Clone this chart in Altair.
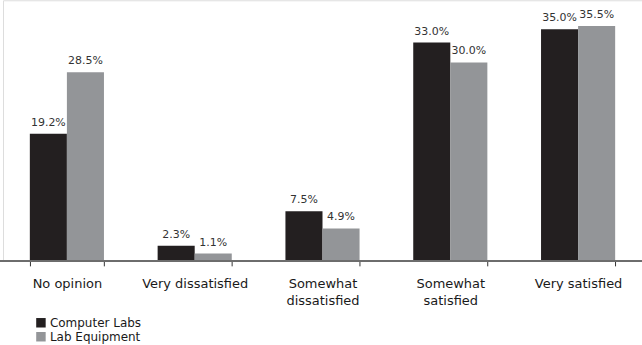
import altair as alt
import pandas as pd

categories = ["No opinion", "Very dissatisfied", "Somewhat dissatisfied", "Somewhat satisfied", "Very satisfied"]
series = ["Computer Labs", "Lab Equipment"]
computer_labs = [19.2, 2.3, 7.5, 33.0, 35.0]
lab_equipment = [28.5, 1.1, 4.9, 30.0, 35.5]
colors = ["#231f20", "#939598"]

rows = []
for c, a, b in zip(categories, computer_labs, lab_equipment):
    rows.append({"category": c, "series": series[0], "value": a, "label": f"{a:.1f}%"})
    rows.append({"category": c, "series": series[1], "value": b, "label": f"{b:.1f}%"})
df = pd.DataFrame(rows)

FONT = "DejaVu Sans"

x = alt.X(
    "category:N",
    sort=categories,
    scale=alt.Scale(paddingInner=0.42, paddingOuter=0.21),
    axis=alt.Axis(
        title=None,
        labelAngle=0,
        labelFont=FONT,
        labelFontSize=13,
        labelColor="#1a1a1a",
        labelPadding=12,
        labelLineHeight=17,
        labelBaseline="top",
        labelExpr="indexof(datum.label, 'Somewhat') == 0 ? split(datum.label, ' ') : datum.label",
        tickBand="extent",
        tickSize=5,
        tickColor="#333333",
        tickWidth=1,
        domainColor="#6d6d6d",
        domainWidth=1.5,
        grid=False,
    ),
)
y = alt.Y(
    "value:Q",
    scale=alt.Scale(domain=[0, 39.4], nice=False),
    axis=None,
)
xoff = alt.XOffset("series:N", sort=series)

bars = alt.Chart(df).mark_bar().encode(
    x=x,
    y=y,
    xOffset=xoff,
    color=alt.Color(
        "series:N",
        sort=series,
        scale=alt.Scale(domain=series, range=colors),
        legend=alt.Legend(
            title=None,
            orient="none",
            legendX=32,
            legendY=317,
            symbolType="square",
            symbolSize=90,
            symbolStrokeWidth=0,
            labelFont=FONT,
            labelFontSize=12,
            labelColor="#1a1a1a",
            labelOffset=3,
            rowPadding=2,
            padding=0,
        ),
    ),
)

labels = alt.Chart(df).mark_text(
    baseline="bottom", dy=-6, font=FONT, fontSize=11, color="#333333"
).encode(
    x=alt.X("category:N", sort=categories),
    y=y,
    xOffset=xoff,
    text="label:N",
)

baseline = alt.Chart(df).mark_rule(color="#6d6d6d", strokeWidth=1.5).encode(
    x=alt.value(-3), x2=alt.value(640), y=alt.value(261)
)

chart = (
    alt.layer(bars, labels, baseline)
    .properties(
        width=640,
        height=261,
        autosize=alt.AutoSizeParams(type="none"),
        padding={"left": 3, "top": 0, "right": 0, "bottom": 84},
    )
    .configure_view(stroke=None)
    .configure(background="white")
)

chart.save("out.html", embed_options={"renderer": "svg", "actions": False})
